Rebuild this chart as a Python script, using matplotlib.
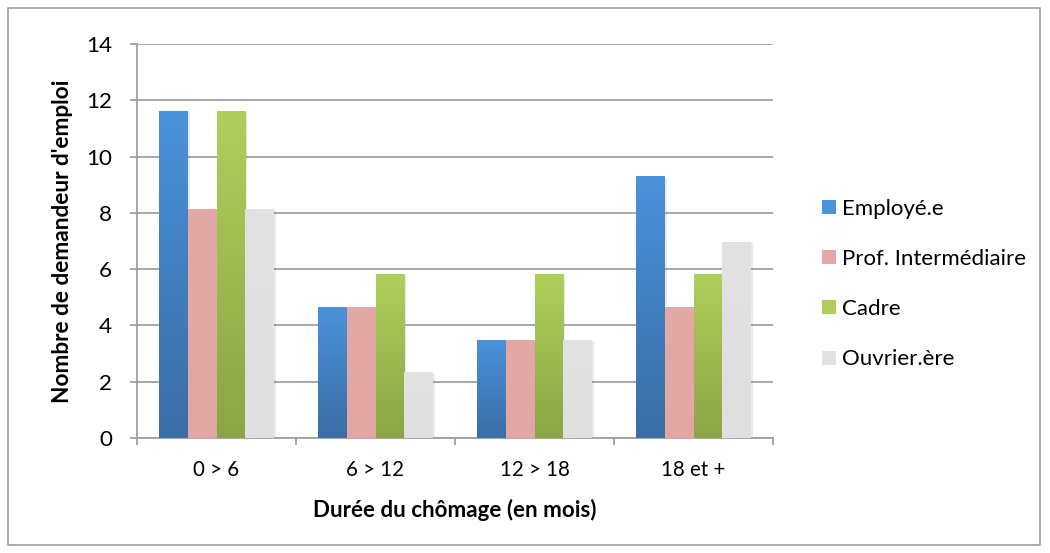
import matplotlib
matplotlib.use("Agg")
import matplotlib.pyplot as plt
import numpy as np
from matplotlib.patches import Rectangle
from matplotlib.colors import LinearSegmentedColormap

plt.rcParams['font.family'] = ['Lato', 'DejaVu Sans']

categories = ["0 > 6", "6 > 12", "12 > 18", "18 et +"]
series_names = ["Employé.e", "Prof. Intermédiaire", "Cadre", "Ouvrier.ère"]
employe = [11.63, 4.65, 3.49, 9.30]
prof_inter = [8.14, 4.65, 3.49, 4.65]
cadre = [11.63, 5.81, 5.81, 5.81]
ouvrier = [8.14, 2.33, 3.49, 6.98]
series_values = [employe, prof_inter, cadre, ouvrier]
y_ticks = [0, 2, 4, 6, 8, 10, 12, 14]
x_title = "Durée du chômage (en mois)"
y_title = "Nombre de demandeur d'emploi"

# gradient (top, bottom) colours per series
grads = [("#4A92DB", "#3A6EA5"), ("#E4A9A7", "#E2A6A4"),
         ("#AFCF5B", "#8AA546"), ("#E2E2E2", "#DFDFDF")]

fig = plt.figure(figsize=(10.5, 5.53), dpi=100)
renderer = fig.canvas.get_renderer()


def size_for(s, target_px, weight='normal'):
    t = fig.text(0, 0, s, fontsize=10, fontweight=weight)
    w = t.get_window_extent(renderer).width
    t.remove()
    return 10 * target_px / w


fs_ytick = size_for("10", 26)
fs_xtick = size_for("12 > 18", 70)
fs_xlab = size_for(x_title, 284, 'bold')
fs_ylab = size_for(y_title, 326, 'bold')
fs_leg = size_for("Prof. Intermédiaire", 184)

ax = fig.add_axes([137/1050, 1 - 438/553, (773-137)/1050, (438-44)/553])

x = np.arange(len(categories))
bw = 0.181
offsets = (np.arange(4) - 1.5) * bw
grad_img = np.linspace(1, 0, 256).reshape(-1, 1)

for i, (name, vals) in enumerate(zip(series_names, series_values)):
    top, bot = grads[i]
    cmap = LinearSegmentedColormap.from_list("g%d" % i, [bot, top])
    bars = ax.bar(x + offsets[i], vals, width=bw, color=top, label=name,
                  zorder=3, linewidth=0)
    for r in bars:
        x0, y0 = r.get_x(), r.get_y()
        w, h = r.get_width(), r.get_height()
        # soft shadow
        sh = Rectangle((x0 + 0.012, y0), w, h - 0.05, facecolor="#000000",
                       alpha=0.08, linewidth=0, zorder=2)
        ax.add_patch(sh)
        im = ax.imshow(grad_img, extent=[x0, x0 + w, y0, y0 + h],
                       aspect='auto', cmap=cmap, zorder=3.5,
                       interpolation='bicubic')
        im.set_clip_path(r)

ax.set_xlim(-0.5, len(categories) - 0.5)
ax.set_ylim(0, 14)
ax.set_yticks(y_ticks)
ax.set_xticks(x)
ax.set_xticklabels(categories)
ax.set_xticks(np.arange(len(categories) + 1) - 0.5, minor=True)
ax.tick_params(axis='x', which='major', length=0, pad=15.5, labelsize=fs_xtick)
ax.tick_params(axis='x', which='minor', length=5, width=1.3, color="#A0A0A0")
ax.tick_params(axis='y', length=5, width=1.3, color="#A0A0A0", labelsize=fs_ytick, pad=13)
ax.yaxis.grid(True, color="#A0A0A0", linewidth=1.3, zorder=0)
ax.set_axisbelow(True)
for s in ["top", "right"]:
    ax.spines[s].set_visible(False)
for s in ["left", "bottom"]:
    ax.spines[s].set_color("#A0A0A0")
    ax.spines[s].set_linewidth(1.3)

ax.set_xlabel(x_title, fontsize=fs_xlab, fontweight='bold')
ax.set_ylabel(y_title, fontsize=fs_ylab, fontweight='bold')
ax.xaxis.set_label_coords(0.5, (438 - 499) / 394)
ax.yaxis.set_label_coords((73 - 137) / 636, 0.5)

handles = [Rectangle((0, 0), 1, 1, facecolor=g[0], edgecolor='none') for g in grads]
row_pt = 50 * 0.72
leg = fig.legend(handles, series_names, loc='center left',
                 bbox_to_anchor=(822/1050, 1 - 284/553), frameon=False,
                 fontsize=fs_leg, handlelength=10.1 / fs_leg,
                 handleheight=9.4 / fs_leg, borderpad=0, borderaxespad=0,
                 labelspacing=row_pt / fs_leg - 0.884,
                 handletextpad=4.3 / fs_leg)

fig.patches.append(Rectangle((8/1050, 8/553), 1032/1050, 537/553,
                             transform=fig.transFigure, fill=False,
                             edgecolor="#A0A0A0", linewidth=1.2))

fig.savefig("out.png", dpi=100)
